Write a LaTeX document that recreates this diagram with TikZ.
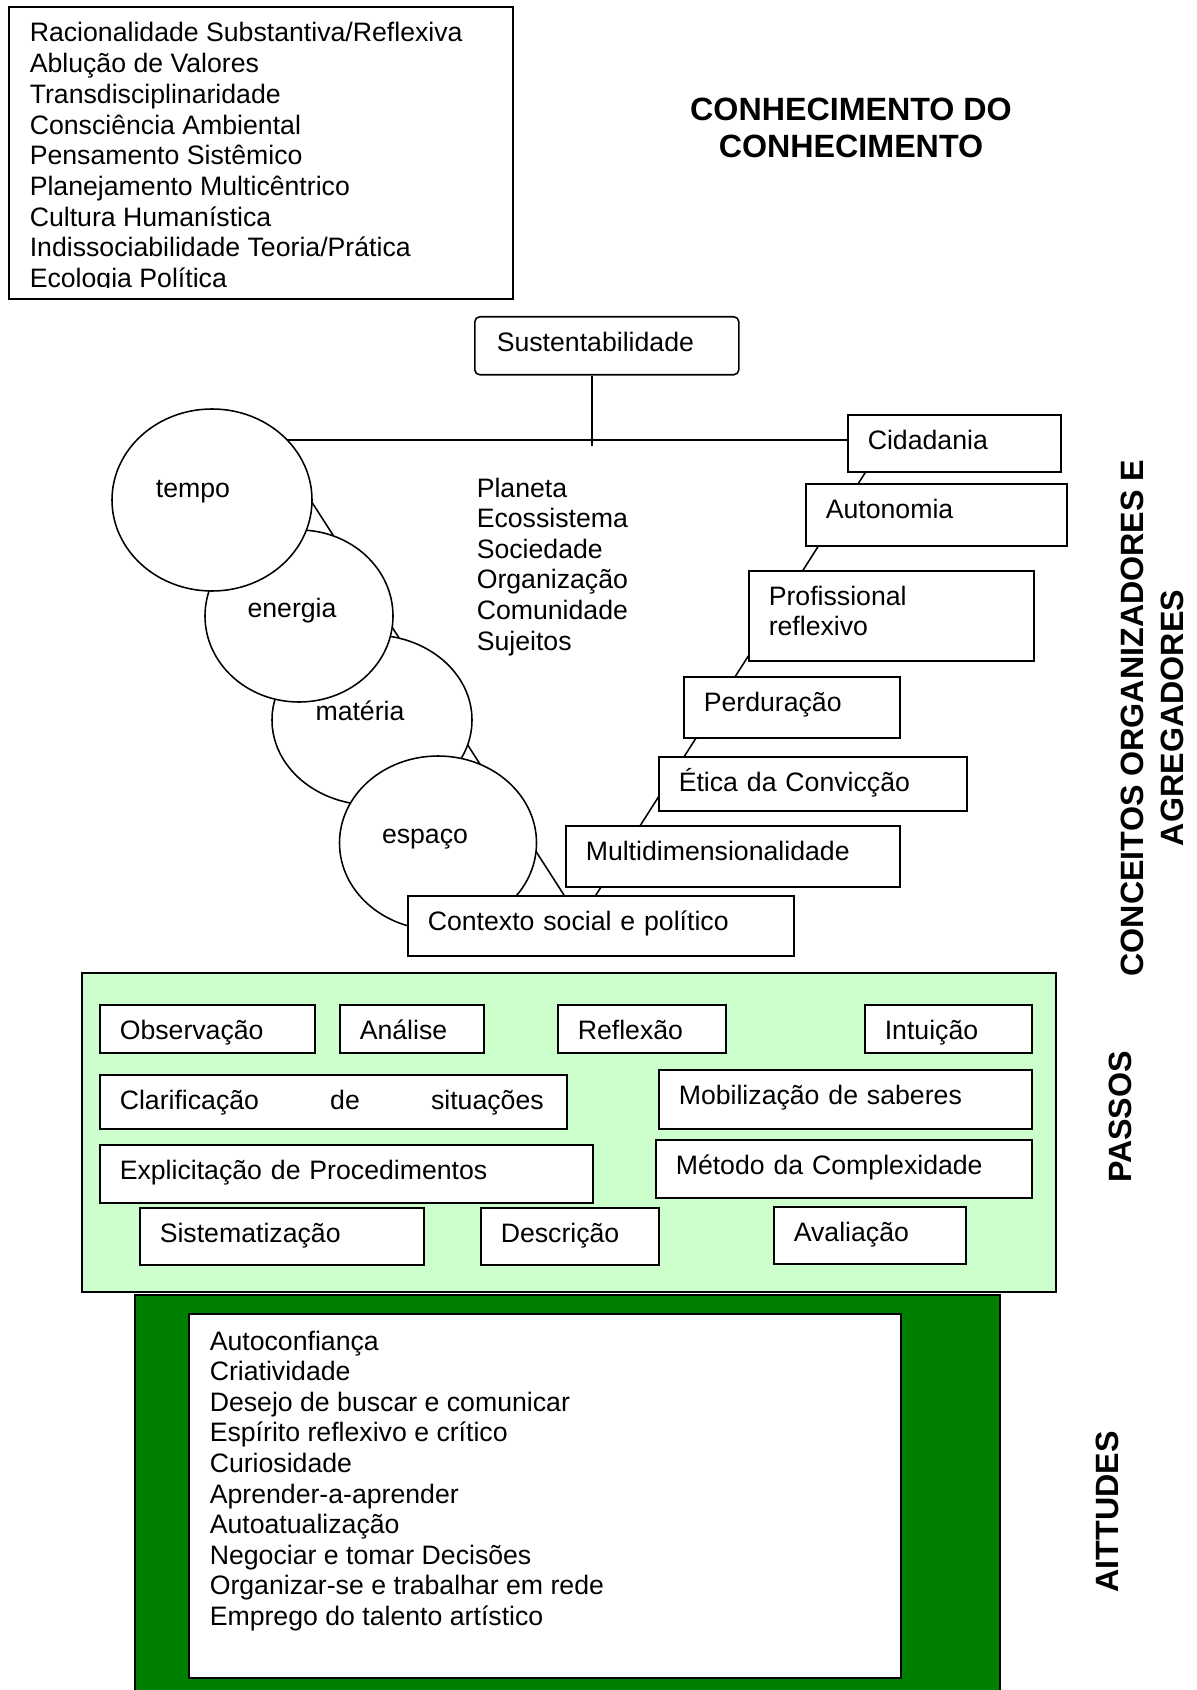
\documentclass[tikz,border=0pt]{standalone}
\usepackage{fontspec}
\setmainfont{Liberation Sans}
\usetikzlibrary{shapes.geometric}
\newlength\pxu
\setlength\pxu{0.45pt}
\definecolor{passosgreen}{HTML}{CCFFCC}
\definecolor{atitgreen}{HTML}{008000}

\begin{document}
\begin{tikzpicture}[x=0.45pt,y=-0.45pt,line width=0.7pt,font=\fontsize{12}{13.8}\selectfont,
  box/.style={draw,fill=white,anchor=north west,inner xsep=20*\pxu,inner ysep=0pt,align=left,
    text height=15.5pt,text depth={#1*\pxu-15.5pt}},
  circ/.style={ellipse,draw,fill=white,inner sep=0pt},
  item/.style={anchor=base west,inner sep=0pt},
  side/.style={rotate=90,align=center,font=\bfseries\fontsize{14.5}{18}\selectfont}]
\useasboundingbox (0,0) rectangle (1196,1690);

% conhecimento do conhecimento
\node[draw,anchor=north west,minimum width=504*\pxu,minimum height=292*\pxu] (saberes) at (8,6) {};
\begin{scope}
\clip (8,6) rectangle (512,288);
\foreach \t [count=\i from 0] in {Racionalidade Substantiva/Reflexiva,Ablução de Valores,Transdisciplinaridade,Consciência Ambiental,Pensamento Sistêmico,Planejamento Multicêntrico,Cultura Humanística,Indissociabilidade Teoria/Prática,Ecologia Política}
  \node[item] (sab\i) at (29,{42+30.67*\i}) {\t};
\end{scope}
\node[align=center,font=\bfseries\fontsize{14.5}{16.5}\selectfont] (titulo) at (851,128) {CONHECIMENTO DO\\CONHECIMENTO};

% triangulo atras de tudo
\coordinate (tl) at (272,440);
\coordinate (tr) at (886,440);
\coordinate (ap) at (580,920);
\draw (tl) -- (tr) -- (ap) -- cycle;

% circulos
\node[circ,minimum width=200*\pxu,minimum height=170*\pxu] (materia) at (372,720) {};
\node[circ,minimum width=188*\pxu,minimum height=172*\pxu] (energia) at (299,616) {};
\node[circ,minimum width=200*\pxu,minimum height=182*\pxu] (tempo) at (212,500) {};
\node[circ,minimum width=197*\pxu,minimum height=174*\pxu] (espaco) at (438,843) {};
\node[anchor=base] (tempo-t) at (193,497) {tempo};
\node[anchor=base] (energia-t) at (292,617) {energia};
\node[anchor=base] (materia-t) at (360,720) {matéria};
\node[anchor=base] (espaco-t) at (425,843) {espaço};

\foreach \t [count=\i from 0] in {Planeta,Ecossistema,Sociedade,Organização,Comunidade,Sujeitos}
  \node[item] (esc\i) at (476,{497+30.6*\i}) {\t};

% escada
\node[box=57,text width=173*\pxu] (cid) at (847,414) {Cidadania};
\node[box=62,text width=221*\pxu] (aut) at (805,483) {Autonomia};
\node[box=90,text width=245*\pxu] (pro) at (748,570) {Profissional\\reflexivo};
\node[box=61,text width=176*\pxu] (per) at (683,676) {Perduração};
\node[box=54,text width=268*\pxu] (eti) at (658,756) {Ética da Convicção};
\node[box=61,text width=294*\pxu] (mul) at (565,825) {Multidimensionalidade};
\node[box=60,text width=346*\pxu] (ctx) at (407,895) {Contexto social e político};

\node[box=58,rounded corners=5*\pxu,inner xsep=22*\pxu,text width=220*\pxu] (sust) at (474,316) {Sustentabilidade};
\coordinate (sj) at (592,446);
\draw (sj |- sust.south) -- (sj);

% passos
\node[draw,fill=passosgreen,anchor=north west,minimum width=974*\pxu,minimum height=319*\pxu] (passos) at (81,972) {};
\node[box=48,text width=175*\pxu] (obs) at (99,1004) {Observação};
\node[box=48,text width=104*\pxu] (ana) at (339,1004) {Análise};
\node[box=48,text width=128*\pxu] (refl) at (557,1004) {Reflexão};
\node[box=48,text width=127*\pxu] (intu) at (864,1004) {Intuição};
\node[box=54,text width=427*\pxu] (cla) at (99,1074) {\hbox to 190.8pt{Clarificação\hfill de\hfill situações}};
\node[box=59,text width=333*\pxu] (mob) at (658,1069) {Mobilização de saberes};
\node[box=58,text width=453*\pxu] (expl) at (99,1144) {Explicitação de Procedimentos};
\node[box=58,text width=336*\pxu] (met) at (655,1139) {Método da Complexidade};
\node[box=57,text width=244*\pxu] (sis) at (139,1207) {Sistematização};
\node[box=57,text width=138*\pxu] (des) at (480,1207) {Descrição};
\node[box=57,text width=152*\pxu] (ava) at (773,1206) {Avaliação};

% atitudes
\node[draw,fill=atitgreen,anchor=north west,minimum width=865*\pxu,minimum height=420*\pxu] (atitudes) at (134,1294) {};
\node[draw,fill=white,anchor=north west,minimum width=712*\pxu,minimum height=364*\pxu] (atitlista) at (188,1313) {};
\foreach \t [count=\i from 0] in {Autoconfiança,Criatividade,Desejo de buscar e comunicar,Espírito reflexivo e crítico,Curiosidade,Aprender-a-aprender,Autoatualização,Negociar e tomar Decisões,Organizar-se e trabalhar em rede,Emprego do talento artístico}
  \node[item] (ati\i) at (209,{1350+30.6*\i}) {\t};

% rotulos laterais
\node[side] (conceitos) at (1152,718) {CONCEITOS ORGANIZADORES E\\AGREGADORES};
\node[side] (passos-t) at (1120,1117) {PASSOS};
\node[side] (atitudes-t) at (1107,1512) {AITTUDES};
\end{tikzpicture}
\end{document}
